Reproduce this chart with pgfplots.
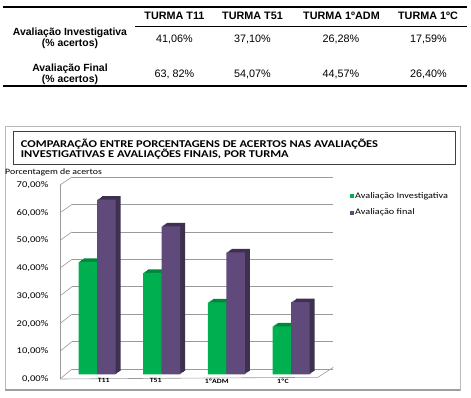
\documentclass[border=0pt]{standalone}
\usepackage{fontspec}
\setmainfont{Liberation Sans}
\newfontfamily\cf[FakeStretch=1.2]{Carlito}
\usepackage{pgfplots}
\pgfplotsset{compat=1.18}
\usepackage{pgfplotstable}

\definecolor{gfront}{HTML}{00B050}
\definecolor{gdark}{HTML}{00873C}
\definecolor{pfront}{HTML}{604A7B}
\definecolor{pdark}{HTML}{3E3150}
\definecolor{gridc}{HTML}{9A9A9A}

\pgfplotstableread{
x inv fin
0 41.06 63.82
1 37.10 54.07
2 26.28 44.57
3 17.59 26.40
}\data

\newcommand\hdr{\bfseries\fontsize{10.8}{12}\selectfont}
\newcommand\lbl{\bfseries\fontsize{10.4}{11}\selectfont}
\newcommand\val{\fontsize{10.8}{12}\selectfont}

\begin{document}
\begin{tikzpicture}[x=1pt,y=1pt]
\useasboundingbox (0,0) rectangle (471,398);
% ---------------- table ----------------
\draw[line width=1.1pt] (3,391) -- (467,391);
\draw[line width=0.5pt] (135,371.3) -- (467,371.3);
\draw[line width=1.1pt] (3,312) -- (467,312);
\node[font=\hdr, anchor=base] at (174.5,378.7) {TURMA T11};
\node[font=\hdr, anchor=base] at (252.5,378.7) {TURMA T51};
\node[font=\hdr, anchor=base] at (341.5,378.7) {TURMA 1ºADM};
\node[font=\hdr, anchor=base] at (428,378.7) {TURMA 1ºC};
\node[font=\lbl, align=center] at (70,359.2) {Avaliação Investigativa\\(\% acertos)};
\node[font=\lbl, align=center] at (70,323.8) {Avaliação Final\\(\% acertos)};
\node[font=\val] at (174.5,358.7) {41,06\%};
\node[font=\val] at (252.5,358.7) {37,10\%};
\node[font=\val] at (341,358.7) {26,28\%};
\node[font=\val] at (428.5,358.7) {17,59\%};
\node[font=\val] at (174.5,324) {63, 82\%};
\node[font=\val] at (252.5,324) {54,07\%};
\node[font=\val] at (341,324) {44,57\%};
\node[font=\val] at (428.5,324) {26,40\%};
% ---------------- chart frame ----------------
\draw[gray!55, line width=0.7pt] (5,8) rectangle (460,271.3);
\draw[gray!75, line width=1.6pt] (5,8) -- (460,8);
\draw[black!75, line width=0.6pt] (13.3,234) rectangle (455,266.7);
\node[anchor=base west, inner sep=0pt, font=\cf\bfseries\fontsize{10.4}{11}\selectfont] at (20.7,250.7) {COMPARAÇÃO ENTRE PORCENTAGENS DE ACERTOS NAS AVALIAÇÕES};
\node[anchor=base west, inner sep=0pt, font=\cf\bfseries\fontsize{10.4}{11}\selectfont] at (20.7,240.7) {INVESTIGATIVAS E AVALIAÇÕES FINAIS, POR TURMA};
\node[anchor=base west, inner sep=0pt, font=\cf\fontsize{8.2}{9}\selectfont] at (5,223.7) {Porcentagem de acertos};
% ---------------- back wall grid ----------------
\begin{axis}[at={(72pt,29pt)}, anchor=south west, scale only axis,
  width=261pt, height=192pt, xmin=0, xmax=1, ymin=0, ymax=70,
  ytick={0,10,...,70}, yticklabels={}, xtick=\empty,
  ymajorgrids, grid style={gridc, line width=0.6pt},
  axis line style={draw=none}, major tick length=0pt]
\end{axis}
% side wall and floor edges
\draw[gridc, line width=0.6pt] (60,19) -- (60,213);
\draw[gridc, line width=0.6pt] (60,19) -- (318,20.7) -- (333.3,30.7);
\foreach \v in {0,10,...,70}
  \draw[gridc, line width=0.6pt] (60,{19+2.771*\v}) -- (72,{29+2.743*\v});
% ---------------- front axis: tick labels ----------------
\begin{axis}[at={(60pt,19pt)}, anchor=south west, scale only axis,
  width=257pt, height=194pt, xmin=0, xmax=4, ymin=0, ymax=70,
  axis line style={draw=none}, major tick length=0pt,
  ytick={0,10,...,70},
  yticklabels={{0,00\%},{10,00\%},{20,00\%},{30,00\%},{40,00\%},{50,00\%},{60,00\%},{70,00\%}},
  yticklabel style={font=\cf\fontsize{8.8}{9}\selectfont, anchor=east, inner sep=0pt, xshift=-11.5pt},
  xtick={0.68,1.49,2.44,3.47},
  xticklabels={T11,T51,1ºADM,1ºC},
  xticklabel style={font=\cf\bfseries\fontsize{6.5}{7}\selectfont, anchor=north, inner sep=0pt, yshift=0.5pt}]
\end{axis}
% ---------------- bars ----------------
\begin{axis}[at={(64.7pt,23.5pt)}, anchor=south west, scale only axis,
  width=258.7pt, height=191.8pt, xmin=-0.5, xmax=3.5, ymin=0, ymax=70,
  hide axis, clip=false,
  legend style={at={(1.103,0.955)}, anchor=north west, draw=none, fill=none,
    font=\cf\fontsize{8.5}{9}\selectfont, row sep=7pt, inner sep=0pt,
    nodes={inner sep=1pt}},
  legend cell align=left]
\pgfplotsinvokeforeach{4,3,2,1}{
  \addplot[ybar, bar width=18.5pt, bar shift=-9.25pt, fill=gdark, draw=none,
    xshift=#1*1.25pt, yshift=#1*0.875pt, forget plot] table[x=x,y=inv]{\data};
}
\addplot[ybar, bar width=18.5pt, bar shift=-9.25pt, fill=gfront, draw=none,
  legend image code/.code={\fill[gfront] (0pt,-2pt) rectangle (4pt,2pt);}]
  table[x=x,y=inv]{\data};
\addlegendentry{Avaliação Investigativa}
\pgfplotsinvokeforeach{4,3,2,1}{
  \addplot[ybar, bar width=18.5pt, bar shift=9.25pt, fill=pdark, draw=none,
    xshift=#1*1.25pt, yshift=#1*0.875pt, forget plot] table[x=x,y=fin]{\data};
}
\addplot[ybar, bar width=18.5pt, bar shift=9.25pt, fill=pfront, draw=none,
  legend image code/.code={\fill[pfront] (0pt,-2pt) rectangle (4pt,2pt);}]
  table[x=x,y=fin]{\data};
\addlegendentry{Avaliação final}
\end{axis}
\end{tikzpicture}
\end{document}
